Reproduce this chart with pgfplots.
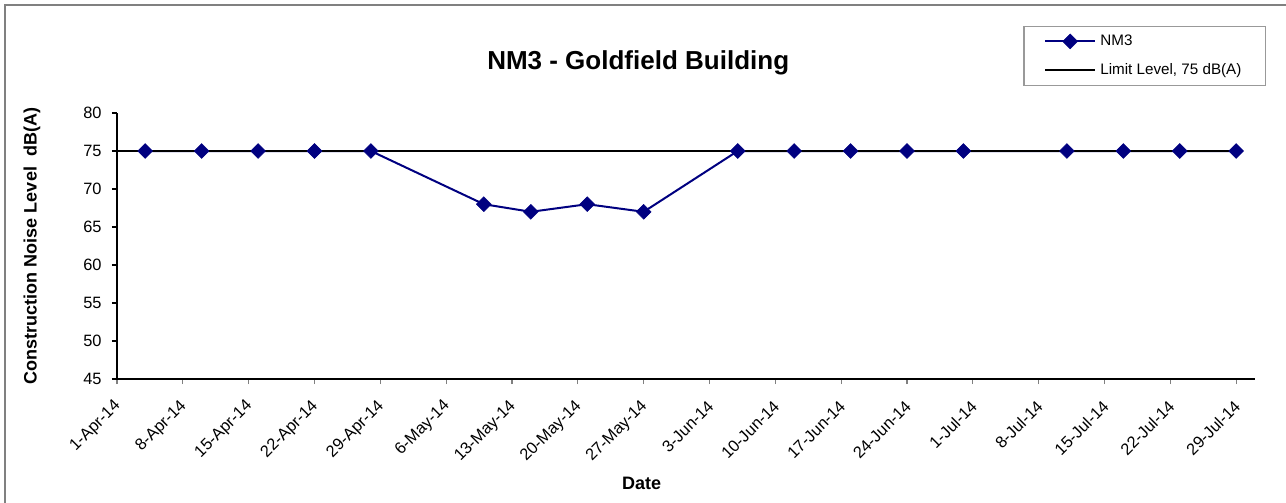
\documentclass[border=0pt]{standalone}
\usepackage{fontspec}
\setmainfont{Liberation Sans}
\usepackage{pgfplots}
\pgfplotsset{compat=1.18}
\usetikzlibrary{calc}
\definecolor{nmblue}{RGB}{0,0,128}
\newcommand{\chartsmall}{\fontsize{7.6}{9}\selectfont}
\newcommand{\ticksize}{\fontsize{8.2}{9.5}\selectfont}

\begin{document}
\begin{tikzpicture}
\begin{axis}[
  name=ax,
  scale only axis,
  width=569pt, height=133pt,
  xmin=0, xmax=121,
  ymin=45, ymax=80,
  axis x line*=bottom,
  axis y line*=left,
  axis line style={line width=0.8pt, -},
  xtick={0,7,...,119},
  xticklabels={1-Apr-14,8-Apr-14,15-Apr-14,22-Apr-14,29-Apr-14,6-May-14,13-May-14,20-May-14,27-May-14,3-Jun-14,10-Jun-14,17-Jun-14,24-Jun-14,1-Jul-14,8-Jul-14,15-Jul-14,22-Jul-14,29-Jul-14},
  ytick={45,50,...,80},
  tick align=outside,
  major tick length=2.5pt,
  x tick style={gray, line width=0.6pt},
  y tick style={black, line width=0.6pt},
  /pgf/number format/assume math mode=true,
  tick label style={font=\ticksize},
  xticklabel style={xshift=1.4pt, yshift=-9pt, rotate=45, anchor=east, inner sep=1pt},
  yticklabel style={inner sep=2pt, xshift=-3pt},
  xlabel={\textbf{Date}},
  ylabel={\textbf{Construction Noise Level \ dB(A)}},
  label style={font=\fontsize{9}{10}\selectfont},
  xlabel style={at={(axis description cs:0.461,-0.391)}, anchor=center},
  ylabel style={at={(axis description cs:-0.0747,0.5)}, anchor=center, rotate=0},
  title={\textbf{NM3 - Goldfield Building}},
  title style={font=\fontsize{13}{15}\selectfont, at={(axis description cs:0.458,1.199)}, anchor=center, yshift=-7.5pt},
  legend style={at={(axis description cs:1.0097,1.327)}, anchor=north east,
    draw=gray!80, line width=0.6pt, font=\chartsmall, cells={anchor=west},
    inner xsep=10pt, inner ysep=2pt, row sep=3.5pt},
  legend image code/.code={%
    \draw[mark repeat=2, mark phase=2, #1] plot coordinates {(0pt,0pt) (12.5pt,0pt) (25pt,0pt)};},
]
\addplot[nmblue, line width=1pt, mark=square*, mark size=2.6pt,
  mark options={rotate=45, solid, fill=nmblue, draw=nmblue, line width=0.3pt}]
  coordinates {(3,75) (9,75) (15,75) (21,75) (27,75) (39,68) (44,67) (50,68) (56,67)
    (66,75) (72,75) (78,75) (84,75) (90,75) (101,75) (107,75) (113,75) (119,75)};
\addlegendentry{NM3}
\addplot[black, line width=1.2pt] coordinates {(0,75) (119,75)};
\addlegendentry{Limit Level, 75 dB(A)}
\end{axis}
\pgfresetboundingbox
\path[use as bounding box] ($(ax.south west)+(-58.5pt,-62pt)$) rectangle ($(ax.north east)+(15.5pt,56.5pt)$);
\draw[gray, line width=0.8pt] ($(ax.south west)+(-56pt,-62pt)$) -- ($(ax.south west)+(-56pt,0pt)$)
  |- ($(ax.north east)+(15.5pt,54pt)$);
\end{tikzpicture}
\end{document}
